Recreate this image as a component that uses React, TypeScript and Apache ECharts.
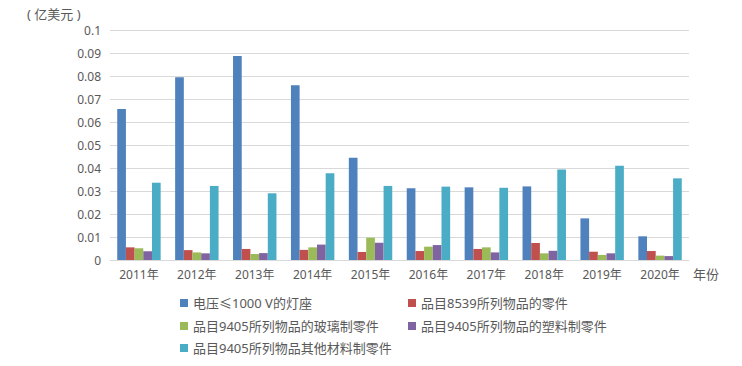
import React, { useEffect, useRef } from "react";
import * as echarts from "echarts";

const categories = ["2011年", "2012年", "2013年", "2014年", "2015年", "2016年", "2017年", "2018年", "2019年", "2020年"];
const seriesNames = [
  "电压≤1000 V的灯座",
  "品目8539所列物品的零件",
  "品目9405所列物品的玻璃制零件",
  "品目9405所列物品的塑料制零件",
  "品目9405所列物品其他材料制零件",
];
const lampHolders = [0.0657, 0.0795, 0.0887, 0.076, 0.0445, 0.0312, 0.0316, 0.032, 0.0181, 0.0103];
const parts8539 = [0.0055, 0.0043, 0.0048, 0.0044, 0.0035, 0.0039, 0.0048, 0.0074, 0.0036, 0.0039];
const glass9405 = [0.0051, 0.0033, 0.0026, 0.0055, 0.0097, 0.0058, 0.0055, 0.0029, 0.0022, 0.0019];
const plastic9405 = [0.0038, 0.0029, 0.003, 0.0067, 0.0075, 0.0065, 0.0033, 0.004, 0.0029, 0.0017];
const other9405 = [0.0336, 0.0322, 0.029, 0.0377, 0.0322, 0.0319, 0.0314, 0.0394, 0.041, 0.0355];
const colors = ["#4F81BD", "#C0504D", "#9BBB59", "#8064A2", "#4BACC6"];

const FONT = "'Noto Sans', 'Noto Sans CJK SC', sans-serif";

export default function App() {
  const ref = useRef<HTMLDivElement>(null);
  useEffect(() => {
    if (!ref.current) return;
    const chart = echarts.init(ref.current, undefined, { renderer: "svg" });
    const data = [lampHolders, parts8539, glass9405, plastic9405, other9405];
    const legendText = { color: "#595959", fontSize: 13, fontFamily: FONT };
    const legendPos = [
      [180, 294],
      [408, 294],
      [180, 317],
      [408, 317],
      [180, 339],
    ];
    chart.setOption({
      animation: false,
      color: colors,
      textStyle: { fontFamily: FONT },
      grid: { left: 110, right: 53, top: 30, bottom: 106, containLabel: false },
      graphic: [
        {
          type: "text",
          left: 27,
          top: 7,
          style: { text: "( 亿美元 )", fill: "#595959", fontSize: 13, fontFamily: FONT },
        },
      ],
      legend: seriesNames.map((name, i) => ({
        left: legendPos[i][0],
        top: legendPos[i][1],
        orient: "horizontal",
        itemWidth: 8,
        itemHeight: 8,
        itemGap: 5,
        icon: "rect",
        padding: 0,
        data: [name],
        textStyle: { ...legendText, lineHeight: 18 },
      })),
      xAxis: {
        type: "category",
        data: categories,
        name: "年份",
        nameLocation: "end",
        nameGap: 4,
        nameTextStyle: { color: "#595959", fontSize: 13, fontFamily: FONT, verticalAlign: "top", padding: [7, 0, 0, 0] },
        axisLine: { lineStyle: { color: "#D9D9D9" } },
        axisTick: { show: false },
        axisLabel: { color: "#595959", fontSize: 12, margin: 8, fontFamily: FONT },
      },
      yAxis: {
        type: "value",
        min: 0,
        max: 0.1,
        interval: 0.01,
        axisLine: { show: false },
        axisTick: { show: false },
        splitLine: { lineStyle: { color: "#D9D9D9" } },
        axisLabel: {
          color: "#595959",
          fontSize: 12,
          margin: 9,
          fontFamily: FONT,
          formatter: (v: number) => String(Math.round(v * 100) / 100),
        },
      },
      series: seriesNames.map((name, i) => ({
        name,
        type: "bar",
        data: data[i],
        barGap: "0%",
        barCategoryGap: "25%",
        itemStyle: { color: colors[i] },
      })),
    });
    return () => chart.dispose();
  }, []);
  return <div ref={ref} style={{ width: 742, height: 366, position: "absolute", left: 0, top: 0 }} />;
}
